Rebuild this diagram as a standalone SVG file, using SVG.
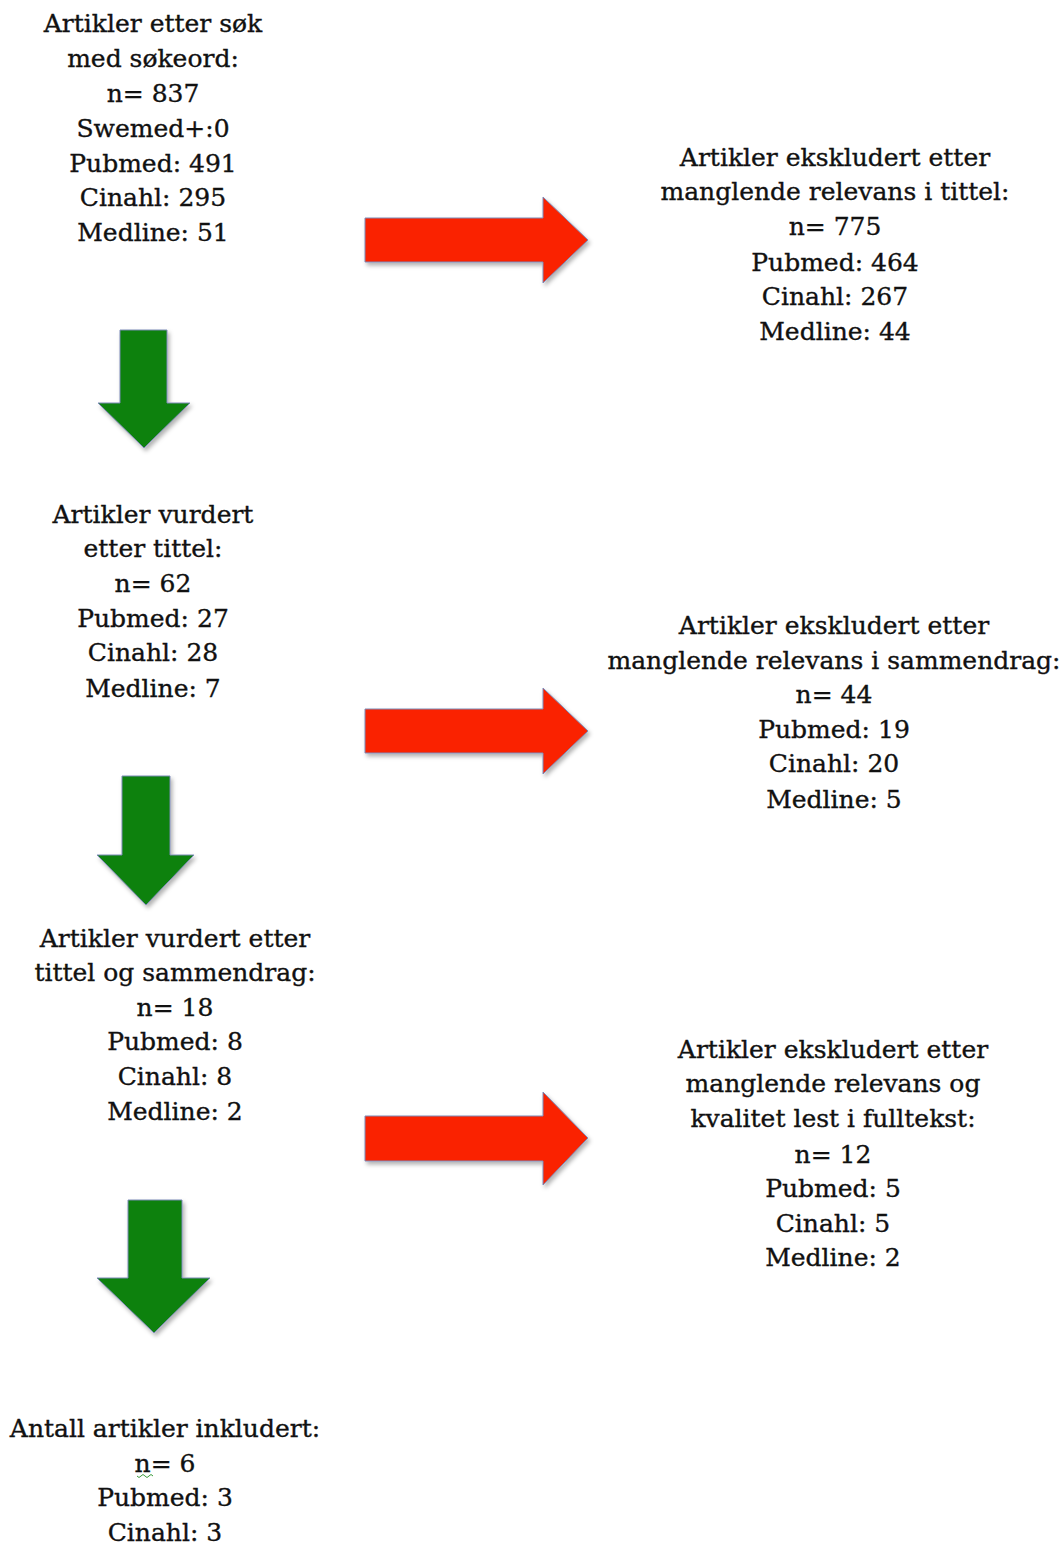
<svg xmlns="http://www.w3.org/2000/svg" width="1064" height="1546" viewBox="0 0 1064 1546">
<style>
text{font-family:"DejaVu Serif","Liberation Serif",serif;font-size:25px;fill:#111;stroke:#111;stroke-width:0.35;text-anchor:middle}
.red{fill:#fa2300;stroke:#7d8ab8;stroke-width:1}
.green{fill:#088108;stroke:#7d8ab8;stroke-width:1}
</style>
<defs>
<filter id="sh" x="-20%" y="-20%" width="140%" height="140%">
<feDropShadow dx="2" dy="3" stdDeviation="2" flood-color="#000" flood-opacity="0.3"/>
</filter>
</defs>
<rect width="1064" height="1546" fill="#fff"/>
<g id="connectors" filter="url(#sh)">
<polygon class="red" points="365,218 543,218 543,197 588,240 543,283 543,262 365,262"/>
<polygon class="red" points="365,709 543,709 543,688 588,731 543,774 543,753 365,753"/>
<polygon class="red" points="365,1116 543,1116 543,1092 588,1138 543,1185 543,1161 365,1161"/>
<polygon class="green" points="120,330 167,330 167,403 190,403 144,448 98,403 120,403"/>
<polygon class="green" points="122,776 170,776 170,855 194,855 146,905 97,855 122,855"/>
<polygon class="green" points="128,1200 182,1200 182,1278 210,1278 154,1333 97,1278 128,1278"/>
</g>
<g id="node1">
<text x="153" y="32">Artikler etter søk</text>
<text x="153" y="67">med søkeord:</text>
<text x="153" y="102">n= 837</text>
<text x="153" y="137">Swemed+:0</text>
<text x="153" y="172">Pubmed: 491</text>
<text x="153" y="206">Cinahl: 295</text>
<text x="153" y="241">Medline: 51</text>
</g>
<g id="node2">
<text x="835" y="166">Artikler ekskludert etter</text>
<text x="835" y="200">manglende relevans i tittel:</text>
<text x="835" y="235">n= 775</text>
<text x="835" y="271">Pubmed: 464</text>
<text x="835" y="305">Cinahl: 267</text>
<text x="835" y="340">Medline: 44</text>
</g>
<g id="node3">
<text x="153" y="523">Artikler vurdert</text>
<text x="153" y="557">etter tittel:</text>
<text x="153" y="592">n= 62</text>
<text x="153" y="627">Pubmed: 27</text>
<text x="153" y="661">Cinahl: 28</text>
<text x="153" y="697">Medline: 7</text>
</g>
<g id="node4">
<text x="834" y="634">Artikler ekskludert etter</text>
<text x="834" y="669">manglende relevans i sammendrag:</text>
<text x="834" y="703">n= 44</text>
<text x="834" y="738">Pubmed: 19</text>
<text x="834" y="772">Cinahl: 20</text>
<text x="834" y="808">Medline: 5</text>
</g>
<g id="node5">
<text x="175" y="947">Artikler vurdert etter</text>
<text x="175" y="981">tittel og sammendrag:</text>
<text x="175" y="1016">n= 18</text>
<text x="175" y="1050">Pubmed: 8</text>
<text x="175" y="1085">Cinahl: 8</text>
<text x="175" y="1120">Medline: 2</text>
</g>
<g id="node6">
<text x="833" y="1058">Artikler ekskludert etter</text>
<text x="833" y="1092">manglende relevans og</text>
<text x="833" y="1127">kvalitet lest i fulltekst:</text>
<text x="833" y="1163">n= 12</text>
<text x="833" y="1197">Pubmed: 5</text>
<text x="833" y="1232">Cinahl: 5</text>
<text x="833" y="1266">Medline: 2</text>
</g>
<g id="node7">
<text x="165" y="1437">Antall artikler inkludert:</text>
<text x="165" y="1472">n= 6</text>
<path d="M137,1476 q2,3 4,0 q2,-3 4,0 q2,3 4,0 q2,-3 4,0" fill="none" stroke="#3a9a3a" stroke-width="1"/>
<text x="165" y="1506">Pubmed: 3</text>
<text x="165" y="1541">Cinahl: 3</text>
</g>
</svg>
